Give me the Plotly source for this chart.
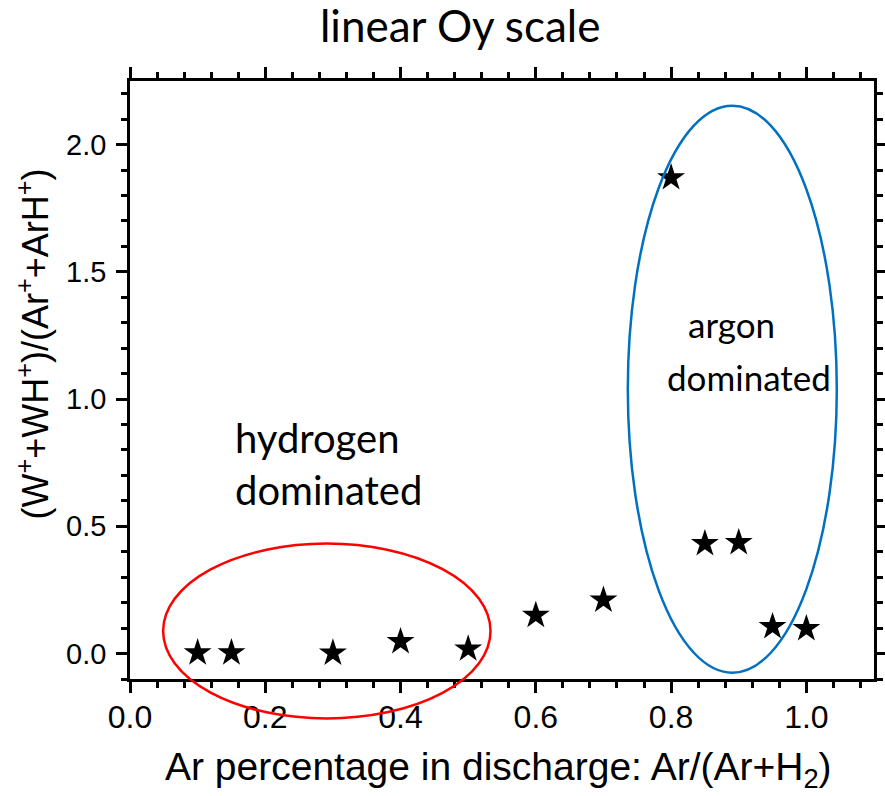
import plotly.graph_objects as go

# ---- data ----
ar_fraction = [0.10, 0.15, 0.30, 0.40, 0.50, 0.60, 0.70, 0.80, 0.85, 0.90, 0.95, 1.00]
ion_ratio = [0.003, 0.003, 0.002, 0.047, 0.018, 0.15, 0.21, 1.87, 0.432, 0.436, 0.106, 0.098]

x_range = [0.0, 1.1]
y_range = [-0.1, 2.25]

# annotation ellipses (data units)
red_ellipse = dict(x0=0.049, x1=0.533, y0=-0.255, y1=0.432)
blue_ellipse = dict(x0=0.736, x1=1.045, y0=-0.075, y1=2.153)


def px(v):
    return (v - x_range[0]) / (x_range[1] - x_range[0])


def py(v):
    return (v - y_range[0]) / (y_range[1] - y_range[0])


TICKFONT = "Liberation Sans, Arial, sans-serif"
TEXTFONT = "Lato, Open Sans, sans-serif"

fig = go.Figure()
fig.add_trace(go.Scatter(
    x=ar_fraction, y=ion_ratio, mode="markers",
    marker=dict(symbol="star", size=21, color="black", line=dict(width=0)),
    showlegend=False, cliponaxis=False,
))

axis_common = dict(
    showline=True, linecolor="black", linewidth=2.5, mirror="allticks",
    ticks="outside", ticklen=11, tickwidth=2.5, tickcolor="black",
    showgrid=False, zeroline=False, automargin=False,
)

fig.update_xaxes(
    range=x_range, dtick=0.2, tick0=0, tickformat=".1f",
    tickfont=dict(family=TICKFONT, size=32, color="black"),
    ticklabelstandoff=-3,
    minor=dict(dtick=0.04, ticks="outside", ticklen=6, tickwidth=2.5, tickcolor="black"),
    **axis_common,
)
fig.update_yaxes(
    range=y_range, dtick=0.5, tick0=0, tickformat=".1f",
    tickfont=dict(family=TICKFONT, size=29, color="black"),
    ticklabelstandoff=4,
    minor=dict(dtick=0.1, ticks="outside", ticklen=6, tickwidth=2.5, tickcolor="black"),
    **axis_common,
)

for e, col in [(red_ellipse, "#FF0000"), (blue_ellipse, "#0070C0")]:
    fig.add_shape(type="circle", xref="paper", yref="paper",
                  x0=px(e["x0"]), x1=px(e["x1"]), y0=py(e["y0"]), y1=py(e["y1"]),
                  line=dict(color=col, width=2.5), fillcolor="rgba(0,0,0,0)", layer="above")

annotations = [
    dict(text="hydrogen<br>dominated", x=px(0.152), y=py(0.745), xanchor="left", yanchor="middle",
         align="left", font=dict(family=TEXTFONT, size=40, color="black")),
    dict(text="argon", x=px(0.889), y=py(1.295), xanchor="center", yanchor="middle",
         font=dict(family=TEXTFONT, size=35, color="black")),
    dict(text="dominated", x=px(0.915), y=py(1.088), xanchor="center", yanchor="middle",
         font=dict(family=TEXTFONT, size=35, color="black")),
    dict(text="Ar percentage in discharge: Ar/(Ar+H<sub>2</sub>)", x=0.495, y=-0.152,
         xanchor="center", yanchor="middle", font=dict(family=TICKFONT, size=39, color="black")),
    dict(text="(W<sup>+</sup>+WH<sup>+</sup>)/(Ar<sup>+</sup>+ArH<sup>+</sup>)", x=-0.13, y=0.56,
         xanchor="center", yanchor="middle", textangle=-90,
         font=dict(family=TICKFONT, size=36, color="black")),
]
for a in annotations:
    fig.add_annotation(xref="paper", yref="paper", showarrow=False, **a)

fig.update_layout(
    width=885, height=796,
    margin=dict(l=130, r=11, t=81, b=117, autoexpand=False),
    paper_bgcolor="white", plot_bgcolor="white",
    title=dict(text="linear Oy scale", x=0.52, xanchor="center", y=0.967, yanchor="middle",
               font=dict(family=TEXTFONT, size=44, color="black")),
)

fig.write_html("out.html", config={"displayModeBar": False})
